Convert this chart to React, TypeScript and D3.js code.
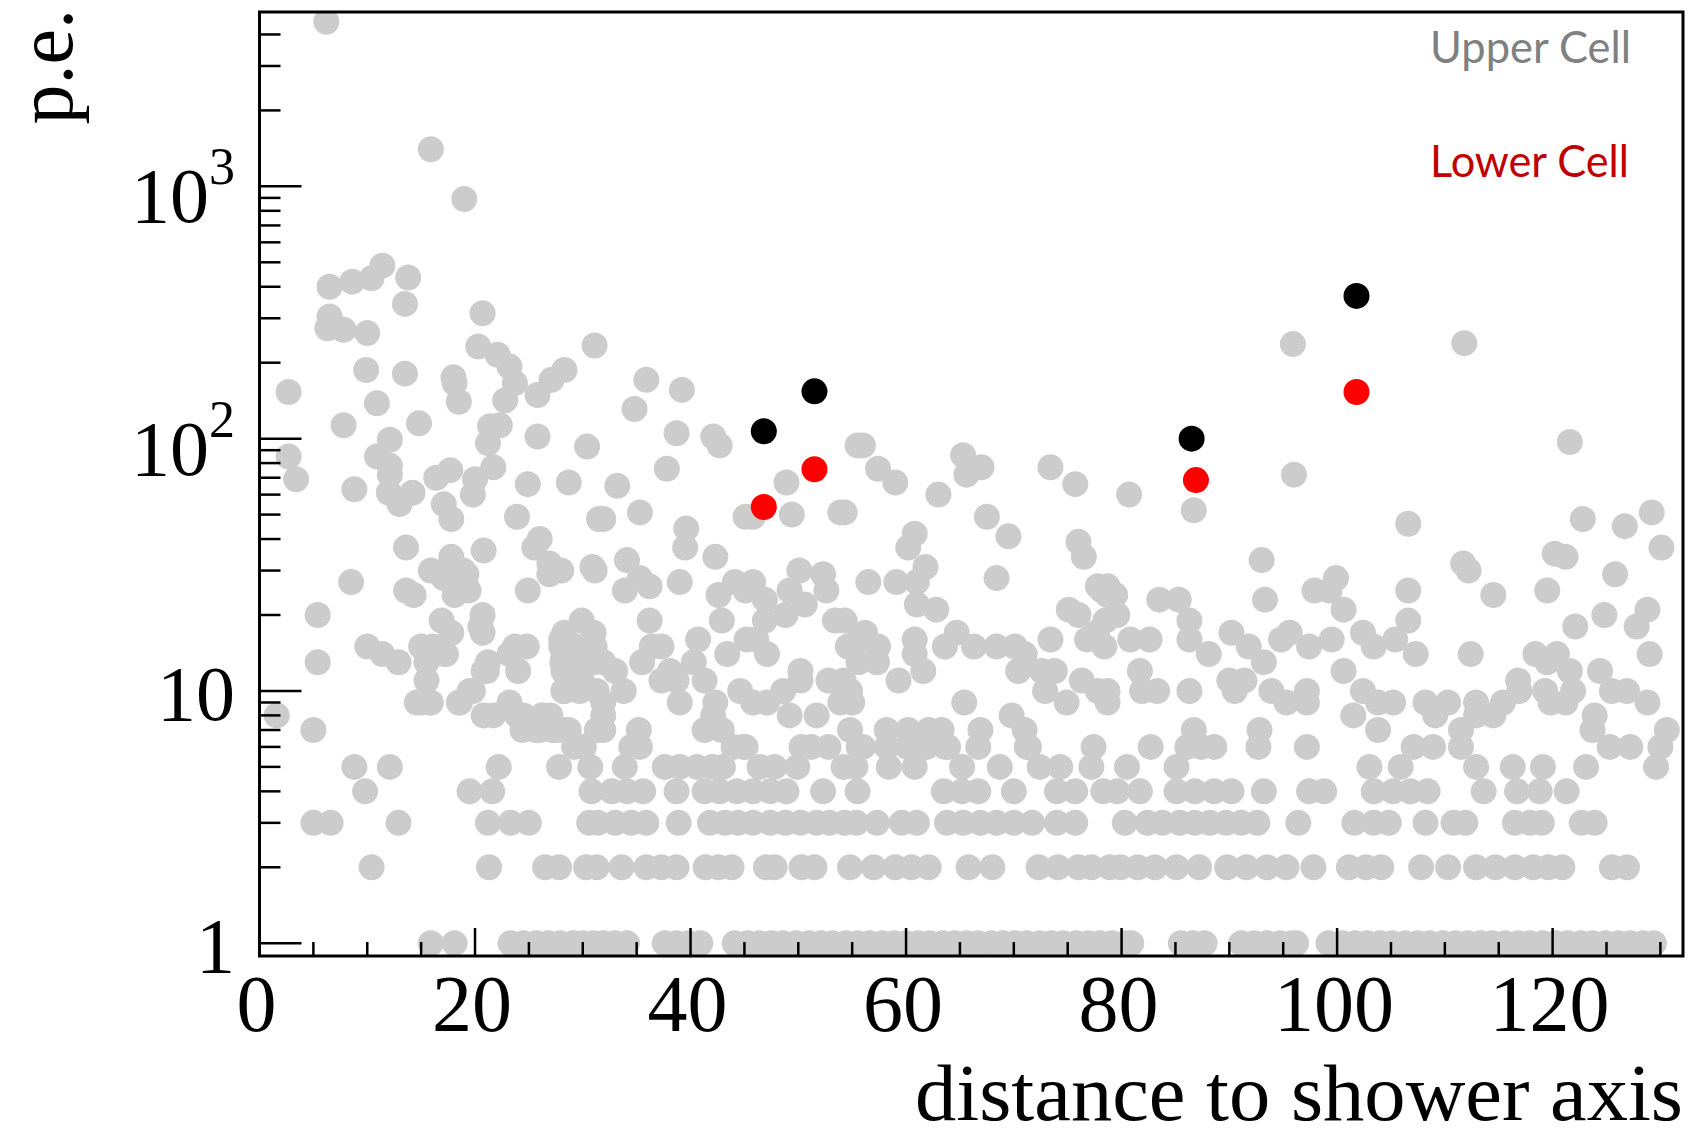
import React, { useEffect } from 'react';
import * as d3 from 'd3';

// ---- axis ticks ----
const xTicks = [0, 20, 40, 60, 80, 100, 120];
const xMinorTicks = [5, 10, 15, 25, 30, 35, 45, 50, 55, 65, 70, 75, 85, 90, 95, 105, 110, 115, 125, 130];
const yTicks = [1, 10, 100, 1000];
const yTickBase = ['1', '10', '10', '10'];
const yTickExp = ['', '', '2', '3'];
const yMinorTicks = [2, 3, 4, 5, 6, 7, 8, 9, 20, 30, 40, 50, 60, 70, 80, 90, 200, 300, 400, 500, 600, 700, 800, 900, 2000, 3000, 4000];

// ---- gray points on integer p.e. levels (distance values) ----
const pe1 = [15.9, 18.1, 23.3, 24.5, 25.7, 26.8, 27.9, 29.1, 30.0, 31.0, 31.9, 33.0, 34.1, 37.6, 38.7, 39.8, 40.9, 44.1, 45.3, 46.4, 47.5, 48.6, 49.8, 51.0, 52.1, 53.2, 54.4, 55.5, 56.6, 57.8, 58.9, 60.0, 61.1, 62.2, 63.4, 64.5, 65.6, 66.7, 67.9, 69.0, 70.1, 71.2, 72.4, 73.5, 74.6, 75.8, 76.9, 78.0, 79.1, 80.3, 80.9, 85.5, 86.6, 87.7, 91.1, 92.3, 93.5, 94.7, 95.8, 96.2, 99.2, 100.5, 101.7, 102.8, 104.0, 105.1, 106.3, 107.5, 108.6, 109.8, 111.0, 112.1, 113.3, 114.4, 115.6, 116.8, 117.9, 119.1, 120.3, 121.4, 122.6, 123.7, 124.9, 126.1, 127.2, 128.4, 129.4];
const pe2 = [10.4, 21.3, 26.5, 27.8, 30.3, 31.3, 33.6, 35.9, 37.3, 38.7, 41.4, 42.6, 43.8, 47.0, 47.8, 50.3, 51.5, 54.8, 57.0, 59.0, 60.5, 62.1, 65.8, 68.0, 72.3, 74.1, 76.0, 77.2, 78.9, 79.9, 81.5, 83.1, 85.1, 87.2, 89.8, 91.6, 93.5, 95.3, 97.8, 101.1, 102.7, 104.1, 107.8, 110.3, 112.9, 114.7, 116.5, 118.2, 119.6, 120.9, 125.5, 126.9];
const pe3 = [5.0, 6.6, 12.9, 21.2, 23.3, 25.0, 30.6, 31.4, 33.0, 34.5, 35.9, 38.9, 41.8, 43.2, 44.4, 45.8, 47.4, 48.8, 50.2, 51.7, 52.9, 54.3, 55.4, 57.3, 59.6, 61.0, 63.8, 65.3, 66.9, 68.4, 70.0, 71.7, 74.0, 75.7, 80.3, 82.4, 83.8, 85.4, 86.8, 88.2, 89.7, 91.1, 92.6, 96.4, 101.6, 103.4, 104.8, 108.2, 110.8, 111.9, 116.5, 117.9, 119.0, 122.7, 123.9];
const pe4 = [9.8, 19.5, 21.6, 30.8, 32.7, 34.1, 35.6, 38.7, 41.3, 42.7, 44.3, 45.8, 47.4, 48.9, 52.3, 55.5, 63.5, 65.2, 66.7, 70.0, 74.0, 75.7, 78.3, 79.6, 81.7, 85.1, 86.8, 88.6, 90.2, 93.2, 97.4, 98.8, 103.4, 105.2, 106.8, 108.4, 113.6, 116.7, 118.8, 121.3];
const pe5 = [8.8, 12.1, 22.2, 27.8, 30.7, 33.9, 37.6, 39.0, 40.6, 42.0, 43.0, 46.4, 47.8, 49.9, 54.2, 55.3, 58.4, 60.8, 65.2, 68.7, 72.4, 74.3, 77.2, 80.5, 85.1, 103.0, 105.9, 112.9, 116.3, 119.1, 123.1, 129.6];
const pe6 = [29.2, 30.1, 34.5, 35.3, 44.0, 44.9, 45.1, 50.3, 51.2, 52.8, 55.6, 56.0, 58.2, 60.1, 61.9, 63.6, 63.9, 66.7, 71.2, 71.4, 77.4, 82.7, 86.1, 87.4, 88.6, 92.7, 97.2, 107.1, 108.9, 111.5, 125.3, 127.2, 130.0];
const pe7 = [5.0, 24.4, 25.6, 26.0, 27.2, 27.6, 28.3, 28.7, 31.3, 31.9, 35.2, 41.3, 42.9, 54.8, 58.2, 60.2, 62.1, 63.3, 66.9, 71.0, 86.7, 92.8, 103.8, 111.5, 123.7, 130.6];
const pe8 = [1.6, 20.8, 21.7, 23.9, 24.5, 26.2, 26.3, 27.0, 31.9, 42.1, 49.2, 51.7, 69.8, 101.5, 109.1, 112.9, 114.5, 123.9];
const pe9 = [14.6, 15.0, 15.8, 15.9, 18.5, 18.6, 23.2, 31.9, 39.0, 42.3, 45.8, 47.1, 53.9, 55.0, 65.4, 74.9, 78.7, 95.3, 97.2, 103.8, 105.2, 108.2, 110.3, 112.9, 115.4, 119.8, 121.2, 128.8];
const pe10 = [19.5, 19.8, 28.2, 28.3, 29.7, 31.3, 33.8, 44.6, 48.6, 54.8, 72.9, 77.8, 78.7, 81.9, 83.3, 86.3, 90.5, 93.9, 97.2, 102.4, 116.9, 119.3, 121.9, 125.5, 126.9];

// ---- remaining gray points [distance, p.e.] ----
const grayPoints: [number, number][] = [
  [6.2, 4490], [15.9, 1403], [19.0, 891],
  [6.5, 400], [8.6, 419], [10.4, 432], [11.4, 485], [13.8, 435],
  [6.5, 305], [6.3, 274], [7.8, 270], [10.0, 262], [13.5, 342], [20.7, 314],
  [31.1, 234], [20.3, 232], [22.1, 215], [23.2, 193], [23.7, 166], [22.8, 142], [21.4, 112],
  [27.1, 171], [28.3, 187], [25.8, 149], [9.9, 187], [13.5, 181], [18.1, 166], [18.0, 175], [18.5, 140],
  [2.7, 153], [10.9, 138], [7.8, 113], [14.8, 115], [12.1, 99], [21.2, 96], [22.3, 113], [25.8, 102], [30.4, 93],
  [16.4, 70], [17.7, 75], [20.0, 69], [21.7, 77], [24.9, 66], [28.7, 67], [8.8, 63], [10.9, 85], [3.4, 69], [2.7, 85],
  [12.1, 72], [12.0, 61], [13.0, 55], [14.2, 61], [12.1, 78],
  [17.1, 55], [17.8, 48], [19.8, 60], [23.9, 49], [31.5, 48],
  [26.0, 40], [25.5, 37], [26.9, 32], [28.0, 30], [26.9, 29], [30.9, 31],
  [13.6, 37], [20.8, 36], [17.8, 34], [18.9, 30], [15.9, 30], [17.1, 28], [19.2, 29],
  [13.6, 25], [14.3, 24], [18.2, 25], [19.4, 25], [18.1, 24], [24.9, 25],
  [8.5, 27], [5.4, 20], [5.4, 13],
  [16.9, 19], [17.8, 17], [16.1, 15], [15.0, 15], [20.7, 20], [20.5, 18], [20.7, 17],
  [10.0, 15], [11.4, 14], [12.9, 13], [16.1, 14], [17.3, 14], [17.2, 14], [15.5, 13],
  [15.5, 11], [20.8, 12], [21.2, 13], [21.1, 12], [23.2, 14], [24.8, 15], [23.7, 15], [24.0, 12],
  [28.0, 15], [28.1, 13], [29.2, 12], [29.9, 11], [29.9, 19], [28.3, 17], [28.0, 16], [28.2, 14], [28.2, 12],
  [29.4, 15], [29.6, 12], [31.0, 17], [31.1, 15],
  [35.9, 171], [39.2, 156], [34.8, 131], [38.7, 105], [42.1, 102], [42.7, 94], [37.8, 76], [33.2, 65], [48.9, 67], [55.5, 94],
  [31.9, 48], [35.3, 51], [39.6, 44], [39.5, 37], [42.3, 34], [34.1, 33], [31.1, 30],
  [35.3, 28], [36.2, 26], [33.9, 25], [39.0, 27], [42.6, 24],
  [44.1, 27], [45.8, 27], [46.9, 23], [45.1, 25],
  [50.1, 30], [52.3, 29], [52.6, 25], [49.2, 25], [50.6, 22], [48.8, 20],
  [46.9, 19], [42.9, 19], [36.2, 19], [53.4, 19],
  [40.7, 16], [36.4, 15], [37.3, 15], [35.5, 13], [38.1, 12], [40.3, 13], [37.3, 11], [38.7, 11], [41.3, 11],
  [43.4, 14], [45.2, 16], [46.1, 16], [47.1, 14],
  [50.2, 12], [50.2, 11], [54.2, 11], [52.8, 11],
  [31.9, 13], [33.0, 12], [31.0, 13],
  [45.1, 49], [45.8, 49], [49.4, 50], [53.9, 51],
  [56.0, 94], [57.4, 76], [59.0, 67], [65.3, 86], [67.0, 77], [65.6, 72], [73.4, 77], [75.7, 66],
  [63.0, 60], [54.3, 51], [67.5, 49], [69.5, 41], [76.0, 39], [76.5, 34],
  [60.8, 42], [60.2, 37], [61.8, 31], [59.1, 27], [61.0, 27], [61.0, 22], [62.8, 21],
  [56.5, 27], [68.4, 28], [77.8, 26], [78.7, 24], [75.1, 21], [76.0, 20], [54.3, 19],
  [55.6, 16], [56.2, 17], [57.4, 15], [57.3, 13], [55.6, 13], [54.6, 15],
  [60.8, 16], [60.8, 14], [61.6, 12], [59.3, 11],
  [64.7, 17], [63.6, 15], [66.3, 15], [68.4, 15], [70.1, 15], [71.0, 14], [72.6, 12], [73.8, 12], [70.4, 12],
  [73.4, 16], [76.3, 11], [77.7, 17], [76.8, 16], [78.2, 25],
  [80.7, 60], [86.7, 52], [96.0, 72], [106.6, 46], [93.0, 33], [93.3, 23],
  [95.9, 237], [111.8, 239], [121.6, 97],
  [78.7, 26], [79.4, 24], [79.6, 20], [78.5, 19], [78.4, 15],
  [80.8, 16], [82.6, 16], [83.5, 23], [85.3, 23], [86.3, 19], [86.3, 16], [88.1, 14],
  [90.2, 17], [91.8, 15], [93.2, 13], [81.7, 12],
  [90.0, 11], [91.4, 11],
  [94.8, 16], [95.6, 17], [97.4, 15], [99.5, 16], [99.3, 25], [99.9, 28], [100.6, 21], [97.9, 25],
  [100.6, 12], [102.4, 17], [103.4, 15], [105.4, 16], [106.6, 19], [106.6, 25], [107.3, 14],
  [116.8, 11], [119.5, 13], [120.4, 14], [121.6, 12], [118.4, 14],
  [111.7, 32], [112.2, 30], [114.5, 24], [112.4, 14], [119.5, 25], [120.2, 35], [121.2, 34], [122.8, 48], [122.1, 18],
  [124.4, 12], [128.8, 21], [127.8, 18], [129.0, 14], [124.8, 20], [125.8, 29], [126.7, 45], [129.2, 51], [130.1, 37],
];

// ---- highlighted event: upper (black) and lower (red) cells ----
const upperDist = [46.8, 51.5, 86.5, 101.8];
const upperPE = [107, 154, 100, 368];
const lowerDist = [46.8, 51.5, 86.9, 101.8];
const lowerPE = [53.6, 75.6, 68.5, 153];

const levelRows: [number, number[]][] = [
  [1, pe1], [2, pe2], [3, pe3], [4, pe4], [5, pe5], [6, pe6], [7, pe7], [8, pe8], [9, pe9], [10, pe10],
];

const W = 1696;
const H = 1138;
const L = 259.5, R = 1683, T = 12, B = 956;

export default function App() {
  useEffect(() => {
    document.body.style.margin = '0';
  }, []);

  const x = d3.scaleLinear().domain([0, 132.1]).range([L, R]);
  const y = d3.scaleLog().domain([0.89, 4910]).range([B, T]);

  const gray: [number, number][] = [];
  levelRows.forEach(([lv, xs]) => xs.forEach((d) => gray.push([d, lv])));
  grayPoints.forEach((p) => gray.push(p));

  const r = 13;
  const serif = "'Liberation Serif', 'Times New Roman', serif";

  return (
    <svg width={W} height={H} style={{ position: 'absolute', left: 0, top: 0, background: '#fff' }}>
      <defs>
        <clipPath id="plotclip">
          <rect x={L} y={T} width={R - L} height={B - T} />
        </clipPath>
      </defs>
      <rect x={0} y={0} width={W} height={H} fill="#fff" />
      <g clipPath="url(#plotclip)">
        {gray.map((p, i) => (
          <circle key={'g' + i} cx={x(p[0])} cy={y(p[1])} r={r} fill="#cccccc" />
        ))}
        {upperDist.map((d, i) => (
          <circle key={'u' + i} cx={x(d)} cy={y(upperPE[i])} r={r} fill="#000000" />
        ))}
        {lowerDist.map((d, i) => (
          <circle key={'l' + i} cx={x(d)} cy={y(lowerPE[i])} r={r} fill="#ff0000" />
        ))}
      </g>
      {/* x ticks */}
      {xTicks.map((t) => (
        <line key={'xt' + t} x1={x(t)} x2={x(t)} y1={B} y2={B - 28} stroke="#000" strokeWidth={2.5} />
      ))}
      {xMinorTicks.map((t) => (
        <line key={'xm' + t} x1={x(t)} x2={x(t)} y1={B} y2={B - 14} stroke="#000" strokeWidth={2.5} />
      ))}
      {/* y ticks */}
      {yTicks.map((t) => (
        <line key={'yt' + t} x1={L} x2={L + 42} y1={y(t)} y2={y(t)} stroke="#000" strokeWidth={2.5} />
      ))}
      {yMinorTicks.map((t) => (
        <line key={'ym' + t} x1={L} x2={L + 21} y1={y(t)} y2={y(t)} stroke="#000" strokeWidth={2.5} />
      ))}
      {/* frame */}
      <rect x={L} y={T} width={R - L} height={B - T} fill="none" stroke="#000" strokeWidth={3} />
      {/* x tick labels */}
      {xTicks.map((t) => (
        <text key={'xl' + t} x={x(t) - 3} y={1031} textAnchor="middle" fontFamily={serif} fontSize={80} fill="#000">
          {t}
        </text>
      ))}
      {/* y tick labels */}
      {yTicks.map((t, i) => (
        <text
          key={'yl' + t}
          x={235}
          y={y(t) + (yTickExp[i] ? 36 : 29)}
          textAnchor="end"
          fontFamily={serif}
          fontSize={78}
          fill="#000"
        >
          {yTickBase[i]}
          {yTickExp[i] ? (
            <tspan fontSize={52} dy={-38}>
              {yTickExp[i]}
            </tspan>
          ) : null}
        </text>
      ))}
      {/* axis titles */}
      <text
        x={R}
        y={1120}
        textAnchor="end"
        fontFamily={serif}
        fontSize={80}
        fill="#000"
        textLength={768}
        lengthAdjust="spacingAndGlyphs"
      >
        distance to shower axis
      </text>
      <text transform="translate(72,9) rotate(-90)" textAnchor="end" fontFamily={serif} fontSize={80} fill="#000">
        p.e.
      </text>
      {/* legend */}
      <text x={1430} y={62.7} fontFamily="Lato, 'Open Sans', sans-serif" fontSize={44} fill="#808080" textLength={201} lengthAdjust="spacingAndGlyphs">
        Upper Cell
      </text>
      <text x={1430} y={177.3} fontFamily="Lato, 'Open Sans', sans-serif" fontSize={44} fill="#c00000" textLength={199} lengthAdjust="spacingAndGlyphs">
        Lower Cell
      </text>
    </svg>
  );
}
